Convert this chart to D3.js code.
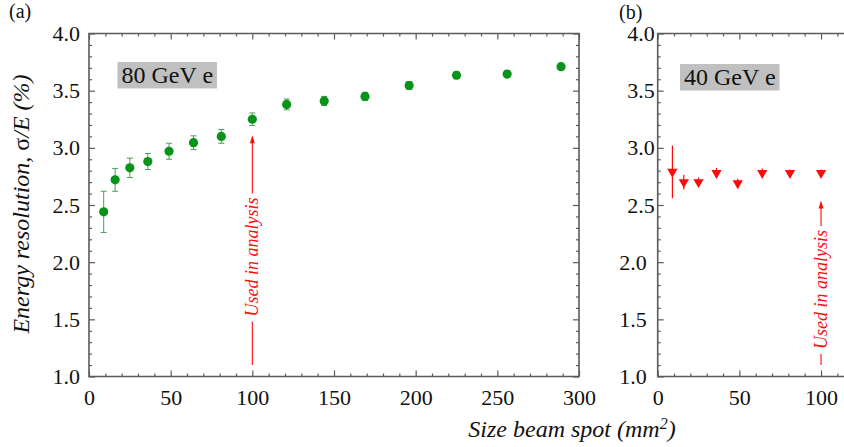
<!DOCTYPE html>
<html>
<head>
<meta charset="utf-8">
<script src="https://cdn.jsdelivr.net/npm/d3@7"></script>
<style>
  html, body { margin: 0; padding: 0; background: #fff; }
  svg { display: block; }
</style>
</head>
<body>
<svg id="chart" width="844" height="447"></svg>
<script>
// Beam spot area (mm^2) and energy resolution (%) for 80 GeV electrons
const spotA = [9, 16, 25, 36, 49, 64, 81, 100, 121, 144, 169, 196, 225, 256, 289];
const resA  = [2.44, 2.72, 2.825, 2.88, 2.97, 3.045, 3.10, 3.25, 3.38, 3.41, 3.45, 3.545, 3.635, 3.645, 3.71];
const errA  = [0.18, 0.10, 0.085, 0.07, 0.07, 0.06, 0.06, 0.055, 0.047, 0.04, 0.035, 0.035, 0.03, 0.03, 0.025];

// Same scan for 40 GeV electrons
const spotB = [9, 16, 25, 36, 49, 64, 81, 100];
const resB  = [2.79, 2.70, 2.70, 2.78, 2.69, 2.78, 2.78, 2.78];
const errB  = [0.23, 0.065, 0.04, 0.045, 0.04, 0.04, 0.03, 0.03];

// Axis ticks
const yMajor = [1.0, 1.5, 2.0, 2.5, 3.0, 3.5, 4.0];
const xMajorA = [0, 50, 100, 150, 200, 250, 300];
const xMajorB = [0, 50, 100];

// Annotations: arrow marking the spot size used in the analysis
const usedSpot = 100;
const arrowA = { top: 3.11, bottom: 1.10, textMid: 2.045 };
const arrowB = { top: 2.54, bottom: 1.10, textMid: 1.76 };

const FONT = '"Liberation Serif", "Times New Roman", Times, serif';
const svg = d3.select("#chart");
const axisColor = "#5a5a5a";
const green = "#079418";
const red = "#ff0a0a";
const ink = "#111";

const y = d3.scaleLinear().domain([1, 4]).range([376.5, 33.5]);
const pxPerUnit = (579 - 89) / 300;
const xA = d3.scaleLinear().domain([0, 300]).range([89, 579]);
const xB = d3.scaleLinear().domain([0, 120]).range([657.7, 657.7 + 120 * pxPerUnit]);

const yMinor = d3.range(10, 41).map(v => v / 10).filter(v => !yMajor.some(m => Math.abs(m - v) < 1e-6));

function label(sel, size, italic, color) {
  return sel.style("font-family", FONT)
    .style("font-size", size + "px")
    .style("font-style", italic ? "italic" : "normal")
    .style("fill", color || ink);
}

function styleAxis(g) {
  g.attr("font-family", null).attr("font-size", null);
  g.select(".domain").remove();
  g.selectAll(".tick line").attr("stroke", axisColor).attr("stroke-width", 1.2);
  g.selectAll(".tick text").call(label, 22, false);
}

function drawFrame(x, xMajor, xMinor, withRight, yLabelShift) {
  const [x0, x1] = x.range();
  const yb = y(1), yt = y(4);

  // bottom axis
  svg.append("g").attr("transform", `translate(0,${yb})`)
    .call(d3.axisBottom(x).tickValues(xMajor).tickSize(-6).tickPadding(13).tickFormat(d3.format("d")))
    .call(styleAxis);
  svg.append("g").attr("transform", `translate(0,${yb})`)
    .call(d3.axisBottom(x).tickValues(xMinor).tickSize(-3).tickFormat(""))
    .call(styleAxis);
  // top axis
  svg.append("g").attr("transform", `translate(0,${yt})`)
    .call(d3.axisTop(x).tickValues(xMajor).tickSize(-6).tickFormat(""))
    .call(styleAxis);
  svg.append("g").attr("transform", `translate(0,${yt})`)
    .call(d3.axisTop(x).tickValues(xMinor).tickSize(-3).tickFormat(""))
    .call(styleAxis);
  // left axis
  svg.append("g").attr("transform", `translate(${x0},0)`)
    .call(d3.axisLeft(y).tickValues(yMajor).tickSize(-6).tickPadding(9).tickFormat(d3.format(".1f")))
    .call(styleAxis)
    .call(g => g.selectAll(".tick text").attr("dx", d => yLabelShift(d)));
  svg.append("g").attr("transform", `translate(${x0},0)`)
    .call(d3.axisLeft(y).tickValues(yMinor).tickSize(-3).tickFormat(""))
    .call(styleAxis);
  if (withRight) {
    svg.append("g").attr("transform", `translate(${x1},0)`)
      .call(d3.axisRight(y).tickValues(yMajor).tickSize(-6).tickFormat(""))
      .call(styleAxis);
    svg.append("g").attr("transform", `translate(${x1},0)`)
      .call(d3.axisRight(y).tickValues(yMinor).tickSize(-3).tickFormat(""))
      .call(styleAxis);
  }
  const path = withRight
    ? `M${x0},${yt}H${x1}V${yb}H${x0}Z`
    : `M${x1},${yt}H${x0}V${yb}H${x1}`;
  svg.append("path").attr("d", path).attr("fill", "none")
    .attr("stroke", axisColor).attr("stroke-width", 1.6);
}

const minorA = d3.range(0, 301, 10).filter(v => v % 50 !== 0);
const minorB = d3.range(0, 121, 10).filter(v => v % 50 !== 0);

drawFrame(xA, xMajorA, minorA, true, () => 0);
drawFrame(xB, xMajorB, minorB, false, d => (d > 2.2 ? 6 : -2));

// Panel tags
svg.append("text").attr("x", 9).attr("y", 18).call(label, 20, false).text("(a)");
svg.append("text").attr("x", 619).attr("y", 19).call(label, 20, false).text("(b)");

// Energy labels on grey boxes
function boxLabel(x, yTop, str) {
  const g = svg.append("g");
  const t = g.append("text").attr("x", x + 4).attr("y", yTop + 21)
    .call(label, 24, false).text(str);
  const bb = t.node().getBBox();
  g.insert("rect", "text")
    .attr("x", x).attr("y", yTop)
    .attr("width", bb.width + 8).attr("height", 26.5)
    .attr("fill", "#c0c0c0");
}
boxLabel(117.5, 62, "80 GeV e");
boxLabel(680, 64, "40 GeV e");

// 80 GeV series: capped error bars and filled circles
const gA = svg.append("g");
const cap = 3;
spotA.forEach((s, i) => {
  const cx = xA(s), lo = y(resA[i] - errA[i]), hi = y(resA[i] + errA[i]);
  gA.append("path")
    .attr("d", `M${cx},${lo}V${hi}M${cx - cap},${lo}H${cx + cap}M${cx - cap},${hi}H${cx + cap}`)
    .attr("stroke", "#4a9e5a").attr("stroke-width", 1).attr("fill", "none");
});
gA.selectAll("circle").data(spotA).join("circle")
  .attr("cx", d => xA(d)).attr("cy", (d, i) => y(resA[i]))
  .attr("r", 4.6).attr("fill", green);

// 40 GeV series: error bars and down-pointing triangles
const gB = svg.append("g");
spotB.forEach((s, i) => {
  const cx = xB(s), lo = y(resB[i] - errB[i]), hi = y(resB[i] + errB[i]);
  gB.append("path").attr("d", `M${cx},${lo}V${hi}`)
    .attr("stroke", red).attr("stroke-width", 1.2);
});
const tri = d3.symbol().type(d3.symbolTriangle).size(46);
gB.selectAll("path.tri").data(spotB).join("path")
  .attr("class", "tri")
  .attr("d", tri)
  .attr("transform", (d, i) => `translate(${xB(d)},${y(resB[i])}) rotate(180)`)
  .attr("fill", red);

// Arrows with rotated captions
function usedArrow(x, a) {
  const cx = x(usedSpot);
  const g = svg.append("g");
  const mid = y(a.textMid);
  const t = g.append("text")
    .attr("transform", `translate(${cx + 6},${mid}) rotate(-90)`)
    .attr("text-anchor", "middle")
    .call(label, 18, true, red).text("Used in analysis");
  const len = t.node().getComputedTextLength();
  const tipY = y(a.top), botY = y(a.bottom);
  g.append("path").attr("d", `M${cx},${botY}V${mid + len / 2 + 5}M${cx},${mid - len / 2 - 4}V${tipY + 6}`)
    .attr("stroke", red).attr("stroke-width", 1.1);
  g.append("path").attr("d", `M${cx},${tipY}L${cx - 2.5},${tipY + 8}L${cx + 2.5},${tipY + 8}Z`)
    .attr("fill", red);
}
usedArrow(xA, arrowA);
usedArrow(xB, arrowB);

// Axis titles
svg.append("text")
  .attr("x", 572).attr("y", 437).attr("text-anchor", "middle")
  .call(label, 24, true)
  .call(t => {
    t.append("tspan").text("Size beam spot (mm");
    t.append("tspan").attr("dy", -8).style("font-size", "16px").text("2");
    t.append("tspan").attr("dy", 8).text(")");
  });

svg.append("text")
  .attr("transform", `translate(29,204) rotate(-90)`)
  .attr("text-anchor", "middle")
  .call(label, 24, true)
  .call(t => {
    t.append("tspan").text("Energy resolution, ");
    t.append("tspan").style("font-style", "normal").text("σ");
    t.append("tspan").text("/E (%)");
  });
</script>
</body>
</html>
